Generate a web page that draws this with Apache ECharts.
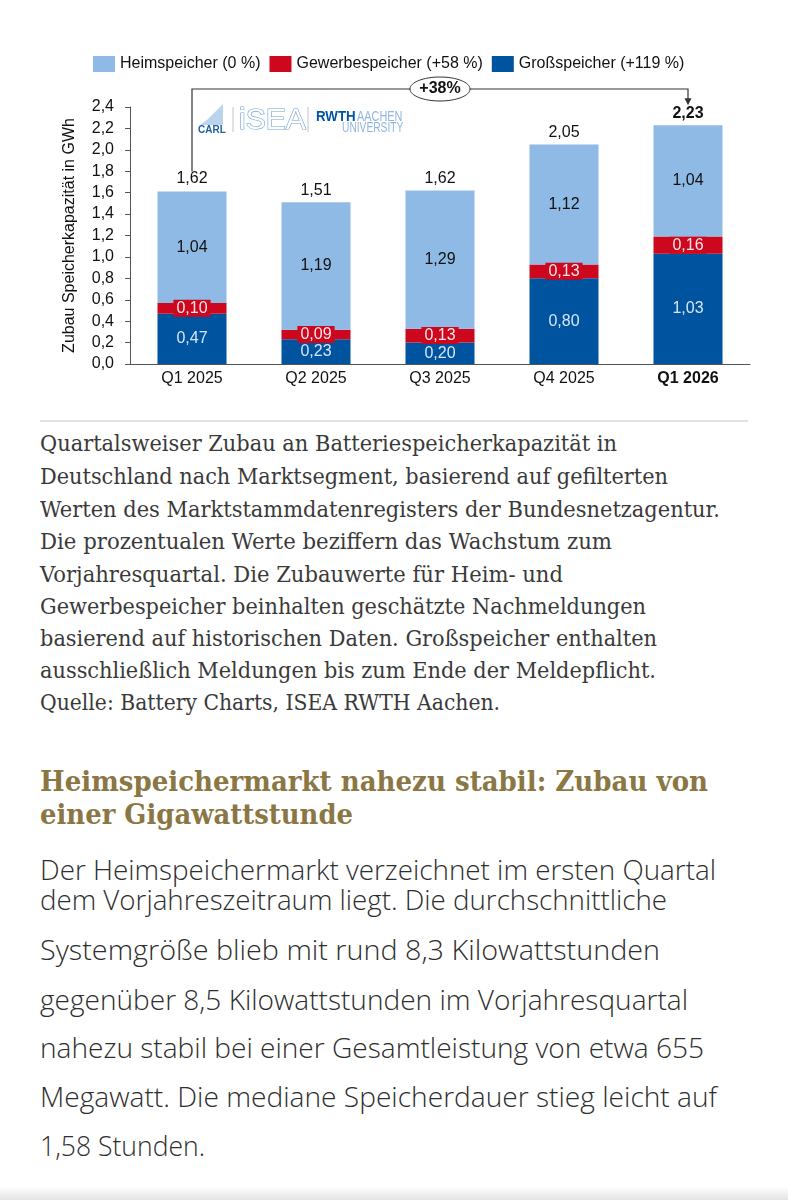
<!DOCTYPE html>
<html>
<head>
<meta charset="utf-8">
<script src="https://cdn.jsdelivr.net/npm/echarts@6/dist/echarts.min.js"></script>
<style>
  html,body{margin:0;padding:0;background:#fff;}
  body{width:788px;height:1200px;overflow:hidden;position:relative;}
  .ln{position:absolute;left:40px;height:40px;line-height:40px;white-space:nowrap;}
  .ln span{display:inline-block;transform-origin:left center;white-space:nowrap;}
  .cap{font-family:"DejaVu Serif",serif;font-size:22.5px;color:#3a3a3a;}
  .hd{font-family:"DejaVu Serif",serif;font-weight:bold;font-size:27px;color:#8a7743;}
  .bd{font-family:"Open Sans",sans-serif;font-weight:300;font-size:27px;color:#2e2e2e;}
</style>
</head>
<body>
<div id="chart" style="position:absolute;left:0;top:0;width:788px;height:410px"></div>
<div style="position:absolute;left:40px;top:420px;width:708px;height:2px;background:#dfe3e6"></div>

<div class="ln cap" style="top:423px" data-r="617"><span>Quartalsweiser Zubau an Batteriespeicherkapazität in</span></div>
<div class="ln cap" style="top:456px" data-r="668"><span>Deutschland nach Marktsegment, basierend auf gefilterten</span></div>
<div class="ln cap" style="top:489px" data-r="720"><span>Werten des Marktstammdatenregisters der Bundesnetzagentur.</span></div>
<div class="ln cap" style="top:521px" data-r="612"><span>Die prozentualen Werte beziffern das Wachstum zum</span></div>
<div class="ln cap" style="top:554px" data-r="563"><span>Vorjahresquartal. Die Zubauwerte für Heim- und</span></div>
<div class="ln cap" style="top:586px" data-r="646"><span>Gewerbespeicher beinhalten geschätzte Nachmeldungen</span></div>
<div class="ln cap" style="top:618px" data-r="657"><span>basierend auf historischen Daten. Großspeicher enthalten</span></div>
<div class="ln cap" style="top:650px" data-r="656"><span>ausschließlich Meldungen bis zum Ende der Meldepflicht.</span></div>
<div class="ln cap" style="top:682px" data-r="500"><span>Quelle: Battery Charts, ISEA RWTH Aachen.</span></div>

<div class="ln hd" style="top:762px" data-r="708"><span>Heimspeichermarkt nahezu stabil: Zubau von</span></div>
<div class="ln hd" style="top:795px" data-r="353"><span>einer Gigawattstunde</span></div>

<div class="ln bd" style="top:850px" data-r="716"><span>Der Heimspeichermarkt verzeichnet im ersten Quartal</span></div>
<div class="ln bd" style="top:880px" data-r="667"><span>dem Vorjahreszeitraum liegt. Die durchschnittliche</span></div>
<div class="ln bd" style="top:930px" data-r="660"><span>Systemgröße blieb mit rund 8,3 Kilowattstunden</span></div>
<div class="ln bd" style="top:980px" data-r="688"><span>gegenüber 8,5 Kilowattstunden im Vorjahresquartal</span></div>
<div class="ln bd" style="top:1028px" data-r="704"><span>nahezu stabil bei einer Gesamtleistung von etwa 655</span></div>
<div class="ln bd" style="top:1077px" data-r="717"><span>Megawatt. Die mediane Speicherdauer stieg leicht auf</span></div>
<div class="ln bd" style="top:1126px" data-r="205"><span>1,58 Stunden.</span></div>

<div style="position:absolute;left:0;top:1186px;width:788px;height:14px;background:linear-gradient(#ffffff,#e4e4e4)"></div>

<script>
// ---- chart data ----
const categories = ['Q1 2025', 'Q2 2025', 'Q3 2025', 'Q4 2025', 'Q1 2026'];
const grossspeicher = [0.47, 0.23, 0.20, 0.80, 1.03];
const gewerbespeicher = [0.10, 0.09, 0.13, 0.13, 0.16];
const heimspeicher = [1.04, 1.19, 1.29, 1.12, 1.04];
const totals = [1.62, 1.51, 1.62, 2.05, 2.23];
const legendNames = ['Heimspeicher (0 %)', 'Gewerbespeicher (+58 %)', 'Großspeicher (+119 %)'];
const yAxisTitle = 'Zubau Speicherkapazität in GWh';
const yMin = 0, yMax = 2.4, yStep = 0.2;
const growthText = '+38%';

// ---- fit text lines ----
document.querySelectorAll('.ln').forEach(el => {
  const span = el.firstElementChild;
  const w = span.getBoundingClientRect().width;
  const target = +el.dataset.r - 40;
  if (w > 0) span.style.transform = 'scaleX(' + (target / w) + ')';
});

const fmt2 = v => v.toFixed(2).replace('.', ',');
const FONT = '"Liberation Sans", Arial, sans-serif';
const C_HEIM = '#8EBAE5', C_GEW = '#CC071E', C_GROSS = '#00549F';
const last = categories.length - 1;

const chart = echarts.init(document.getElementById('chart'), null, {renderer: 'canvas'});
const option = {
  animation: false,
  textStyle: {fontFamily: FONT},
  legend: {
    data: legendNames,
    left: 88, top: 51,
    icon: 'rect', itemWidth: 22, itemHeight: 16, itemGap: 9,
    textStyle: {fontFamily: FONT, fontSize: 16, color: '#111'},
    selectedMode: false
  },
  grid: {left: 130, right: 38, top: 107, bottom: 46},
  xAxis: {
    type: 'category',
    data: categories,
    axisLine: {show: true, lineStyle: {color: '#555', width: 1}},
    axisTick: {show: false},
    axisLabel: {
      fontFamily: FONT, fontSize: 16, color: '#111', margin: 7,
      formatter: (v, i) => i === last ? '{b|' + v + '}' : v,
      rich: {b: {fontFamily: FONT, fontSize: 16, fontWeight: 'bold', color: '#111'}}
    }
  },
  yAxis: {
    type: 'value',
    min: yMin, max: yMax, interval: yStep,
    name: yAxisTitle,
    nameLocation: 'middle',
    nameGap: 52,
    nameTextStyle: {fontFamily: FONT, fontSize: 16, color: '#111'},
    axisLine: {show: true, lineStyle: {color: '#555', width: 1}},
    axisTick: {show: true, length: 5, lineStyle: {color: '#555'}},
    splitLine: {show: false},
    axisLabel: {
      fontFamily: FONT, fontSize: 16, color: '#111', margin: 16,
      formatter: v => v.toFixed(1).replace('.', ',')
    }
  },
  series: [
    {
      name: legendNames[2], type: 'bar', stack: 's', barWidth: 69, barGap: '-100%',
      data: grossspeicher,
      itemStyle: {color: C_GROSS},
      label: {show: true, position: 'inside', fontFamily: FONT, fontSize: 16, color: '#d6e6f8',
        formatter: p => fmt2(p.value)}
    },
    {
      name: legendNames[1], type: 'bar', stack: 's', barWidth: 69, barGap: '-100%',
      data: gewerbespeicher,
      itemStyle: {color: C_GEW},
      label: {show: true, position: 'inside', fontFamily: FONT, fontSize: 16, color: '#fde6e9',
        backgroundColor: C_GEW, padding: [1, 3, 0, 3], lineHeight: 16,
        formatter: p => fmt2(p.value)}
    },
    {
      name: legendNames[0], type: 'bar', stack: 's', barWidth: 69, barGap: '-100%',
      data: heimspeicher,
      itemStyle: {color: C_HEIM},
      label: {show: true, position: 'inside', fontFamily: FONT, fontSize: 16, color: '#111',
        formatter: p => fmt2(p.value)}
    },
    {
      name: 'Summe', type: 'bar', barWidth: 69, barGap: '-100%', silent: true, z: 1,
      data: totals,
      itemStyle: {color: 'rgba(0,0,0,0)'},
      label: {show: true, position: 'top', distance: 4, fontFamily: FONT, fontSize: 16, color: '#111',
        formatter: p => p.dataIndex === last ? '{b|' + fmt2(p.value) + '}' : fmt2(p.value),
        rich: {b: {fontFamily: FONT, fontSize: 16, fontWeight: 'bold', color: '#111'}}}
    }
  ]
};
chart.setOption(option);

// ---- annotation bracket (computed through axes) ----
const px = (cat, v) => chart.convertToPixel({xAxisIndex: 0, yAxisIndex: 0}, [cat, v]);
const pStart = px(categories[0], totals[0]);
const pEnd = px(categories[last], totals[last]);
const yBracket = px(categories[0], yMax)[1] - 18;
const xMid = px(categories[Math.floor(categories.length / 2)], yMax)[0];
const yStart = pStart[1] - 19;
const yTip = pEnd[1] - 20;
const LOGO_L = '#8fb6e0';

chart.setOption({
  graphic: [
    {type: 'polyline', silent: true, z: 10,
      shape: {points: [[pStart[0], yStart], [pStart[0], yBracket], [pEnd[0], yBracket], [pEnd[0], yTip - 5]]},
      style: {stroke: '#333', lineWidth: 1.2, fill: null}},
    {type: 'polygon', silent: true, z: 10,
      shape: {points: [[pEnd[0] - 3.5, yTip - 7], [pEnd[0] + 3.5, yTip - 7], [pEnd[0], yTip]]},
      style: {fill: '#333'}},
    {type: 'ellipse', silent: true, z: 11,
      shape: {cx: xMid, cy: yBracket, rx: 30, ry: 12},
      style: {fill: '#fff', stroke: '#333', lineWidth: 1}},
    {type: 'text', silent: true, z: 12, x: xMid, y: yBracket,
      style: {text: growthText, fontFamily: FONT, fontSize: 16, fontWeight: 'bold', fill: '#111',
        align: 'center', verticalAlign: 'middle'}},
    // logo
    {type: 'polygon', silent: true, z: 5,
      shape: {points: [[200, 125], [208, 119], [216, 111], [223, 104], [223, 125]]},
      style: {fill: '#bcd3ee'}},
    {type: 'text', silent: true, z: 6, x: 212, y: 130,
      style: {text: 'CARL', fontFamily: FONT, fontSize: 10, fontWeight: 'bold', fill: '#1d5fa8',
        align: 'center', verticalAlign: 'middle'}},
    {type: 'line', silent: true, z: 5, shape: {x1: 233, y1: 107, x2: 233, y2: 132},
      style: {stroke: '#c4c4c4', lineWidth: 1}},
    {type: 'text', silent: true, z: 6, x: 239, y: 121,
      style: {text: 'iSEA', fontFamily: FONT, fontSize: 30, fill: '#fff', stroke: '#6f9fd2', lineWidth: 1.2,
        align: 'left', verticalAlign: 'middle'}},
    {type: 'line', silent: true, z: 5, shape: {x1: 308, y1: 107, x2: 308, y2: 132},
      style: {stroke: '#c4c4c4', lineWidth: 1}},
    {type: 'text', silent: true, z: 6, x: 316, y: 117, scaleX: 0.95,
      style: {text: 'RWTH', fontFamily: FONT, fontSize: 14, fontWeight: 'bold', fill: '#00549F',
        align: 'left', verticalAlign: 'middle'}},
    {type: 'text', silent: true, z: 6, x: 357, y: 117, scaleX: 0.78,
      style: {text: 'AACHEN', fontFamily: FONT, fontSize: 14, fill: LOGO_L,
        align: 'left', verticalAlign: 'middle'}},
    {type: 'text', silent: true, z: 6, x: 342, y: 128, scaleX: 0.73,
      style: {text: 'UNIVERSITY', fontFamily: FONT, fontSize: 14, fill: LOGO_L,
        align: 'left', verticalAlign: 'middle'}}
  ]
});
</script>
</body>
</html>
